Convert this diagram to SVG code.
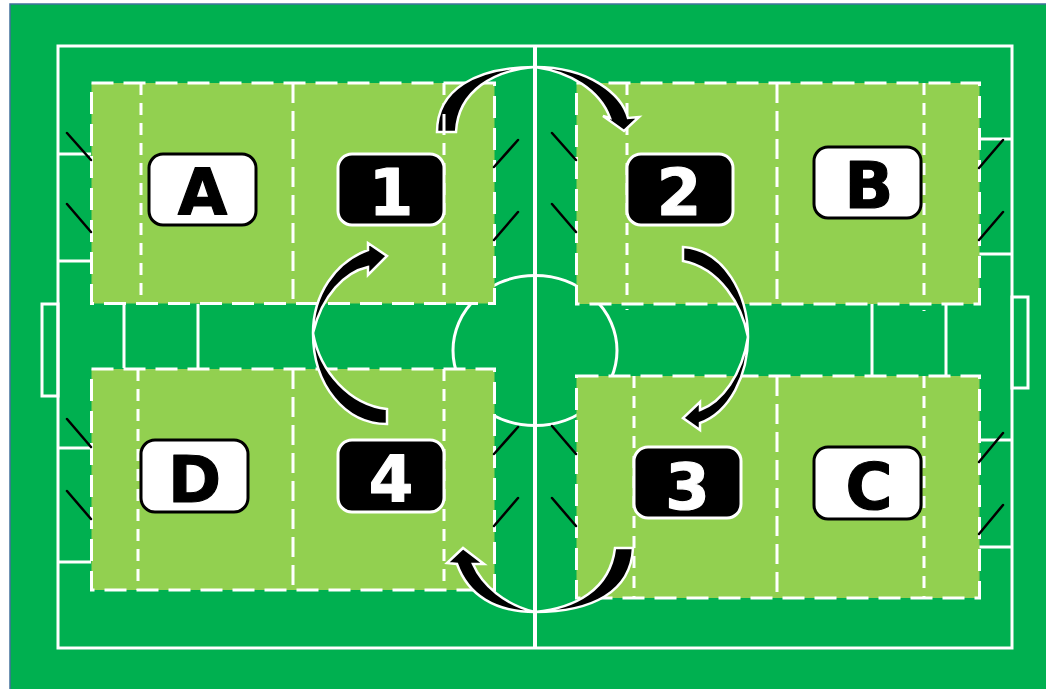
<svg xmlns="http://www.w3.org/2000/svg" width="1046" height="689" viewBox="0 0 1046 689">
<style>
.ln{fill:none;stroke:#fff;stroke-width:3}
.zone{fill:#92d050;stroke:#fff;stroke-width:3;stroke-dasharray:22 10}
.in{fill:none;stroke:#fff;stroke-width:3;stroke-dasharray:20 8}
.in2{fill:none;stroke:#fff;stroke-width:3;stroke-dasharray:12 8}
.tick{fill:none;stroke:#000;stroke-width:2.5;stroke-linecap:round}
.arr{fill:#000;stroke:#fff;stroke-width:2.5;stroke-linejoin:miter}
.lbox{fill:#fff;stroke:#000;stroke-width:3}
.dbox{fill:#000;stroke:#fff;stroke-width:3}
text{font-family:"DejaVu Sans",Verdana,sans-serif;font-weight:700;font-size:64px;text-anchor:middle;stroke-width:1.2;stroke-linejoin:round}
.lt{fill:#000;stroke:#000}.dt{fill:#fff;stroke:#fff}
</style>
<rect x="0" y="0" width="1046" height="689" fill="#fff"/>
<rect x="10" y="4" width="1038" height="687" fill="#00b050" stroke="#41719c" stroke-width="1.5"/>
<g id="pitch">
<rect class="ln" x="58" y="46" width="954" height="602"/>
<rect class="ln" x="42" y="304" width="16" height="92"/>
<rect class="ln" x="1012" y="297" width="16" height="91"/>
<ellipse class="ln" cx="535" cy="350.500" rx="82" ry="75"/>
<path class="ln" d="M58 154H91M58 261H91M58 448H91M58 562H91M979 139H1012M979 254H1012M979 440H1012M979 547H1012M124 304V368M198 304V368M872 304V376M946 304V376"/>
</g>
<g id="zones">
<rect class="zone" x="91.500" y="83" width="403" height="220.500"/>
<rect class="zone" x="576.500" y="83" width="403" height="221"/>
<rect class="zone" x="91.500" y="369" width="403" height="221"/>
<rect class="zone" x="576.500" y="376" width="403" height="222"/>
<path class="in2" d="M141 83V298M444 83V303M627 83V304M924 83V304M138 369V590M444 369V590M634 376V598M924 376V598"/>
<path class="in" d="M293 83V303M777 83V304M293 369V590M777 376V598"/>
<path class="ln" d="M625.500 309.500H628.500M922.500 310.500H925.500" style="stroke-width:1"/>
</g>
<path class="ln" d="M535 46V648" style="stroke-width:4"/>
<g id="ticks">
<path class="tick" d="M67 133L91 160M67 204L91 232M518 140L494 167M518 212L494 240M552 133L576 160M552 204L576 232M1003 140L979 168M1003 212L979 240M67 419L91 447M67 491L91 519M518 427L494 454M518 498L494 526M552 426L576 454M552 498L576 526M1003 433L979 462M1003 505L979 534"/>
</g>
<g id="connectors">
<path class="arr" d="M437 132C437 90 475 67 535 67C495 70 458 90 456 132Z"/>
<path class="arr" d="M535 67C590 67 622 95 628 118L639 117L624 131L603 116L610 118C600 90 570 72 535 67Z"/>
<path class="arr" d="M683 247C725 250 748 295 748 337C742 305 720 268 683 261Z"/>
<path class="arr" d="M748 337C748 375 730 412 700 423L700 430L683 418L700 402L700 410C722 402 742 375 748 337Z"/>
<path class="arr" d="M633 548C631 592 592 612 535 612C575 608 610 590 615 548Z"/>
<path class="arr" d="M535 612C495 612 468 595 457 564L447 563L463 548L484 564L473 564C482 585 505 605 535 612Z"/>
<path class="arr" d="M387 424C345 424 313 385 313 333C320 372 350 405 387 409Z"/>
<path class="arr" d="M313 333C313 295 335 262 368 250L368 243L387 256L368 275L368 267C345 272 322 295 313 333Z"/>
<path class="ln" d="M444 114V132"/>
</g>
<g id="node-A"><rect class="lbox" x="149" y="154" width="107" height="71" rx="14"/><text class="lt" x="202.500" y="215">A</text></g>
<g id="node-1"><rect class="dbox" x="338" y="154" width="106" height="71" rx="14"/><text class="dt" x="391" y="215">1</text></g>
<g id="node-2"><rect class="dbox" x="627" y="154" width="106" height="71" rx="14"/><text class="dt" x="679" y="215">2</text></g>
<g id="node-B"><rect class="lbox" x="814" y="147" width="107" height="71" rx="14"/><text class="lt" x="869" y="208">B</text></g>
<g id="node-3"><rect class="dbox" x="634" y="447" width="107" height="71" rx="14"/><text class="dt" x="687.500" y="509">3</text></g>
<g id="node-C"><rect class="lbox" x="814" y="447" width="107" height="72" rx="14"/><text class="lt" x="869" y="509">C</text></g>
<g id="node-D"><rect class="lbox" x="141" y="440" width="107" height="72" rx="14"/><text class="lt" x="194.500" y="502">D</text></g>
<g id="node-4"><rect class="dbox" x="338" y="440" width="106" height="72" rx="14"/><text class="dt" x="391" y="502">4</text></g>
</svg>
